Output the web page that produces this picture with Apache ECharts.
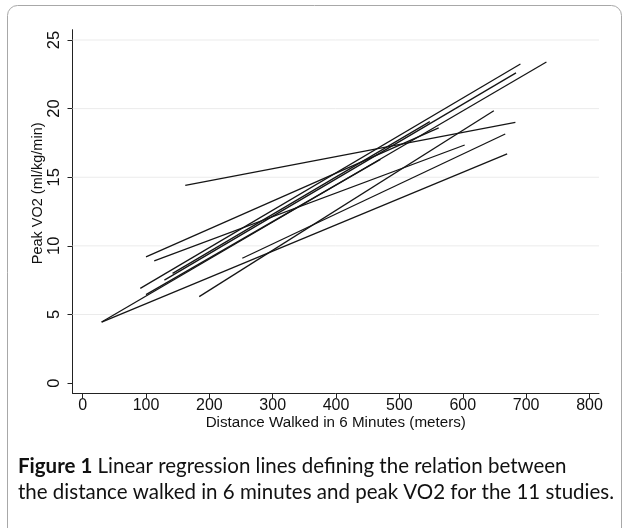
<!DOCTYPE html>
<html><head><meta charset="utf-8">
<script src="https://cdn.jsdelivr.net/npm/echarts@6/dist/echarts.min.js"></script>
<style>html,body{margin:0;padding:0;background:#fff}#c{width:625px;height:528px}</style>
</head><body><div id="c"></div>
<script>
// Regression line endpoints for the 11 studies (distance m, peak VO2)
const startX = [100, 113, 91, 129, 142, 184, 252, 30, 30, 162, 100];
const startY = [9.2, 8.9, 6.9, 7.5, 8.0, 6.3, 9.1, 4.45, 4.45, 14.4, 6.45];
const endX   = [562, 603, 691, 684, 548, 649, 667, 732, 670, 683, 470];
const endY   = [18.6, 17.35, 23.25, 22.6, 19.05, 19.85, 18.15, 23.4, 16.7, 19.0, 16.3];
const xTicks = [0, 100, 200, 300, 400, 500, 600, 700, 800];
const yTicks = [0, 5, 10, 15, 20, 25];
const gridYs = [5, 10, 15, 20, 25];
const xMin = -16, xMax = 815, yMin = -0.72, yMax = 25.75;
const xName = 'Distance Walked in 6 Minutes (meters)';
const yName = 'Peak VO2 (ml/kg/min)';
const capBold = 'Figure 1';
const capLine1 = ' Linear regression lines defining the relation between';
const capLine2 = 'the distance walked in 6 minutes and peak VO2 for the 11 studies.';

const chart = echarts.init(document.getElementById('c'), null, {renderer: 'canvas'});
const series = [];
gridYs.forEach(v => series.push({
  type: 'line', data: [[xMin, v], [xMax, v]], symbol: 'none', silent: true,
  lineStyle: {color: '#ebebeb', width: 1}, z: 1
}));
startX.forEach((x0, i) => series.push({
  type: 'line',
  data: [[x0, startY[i]], [endX[i], endY[i]]],
  symbol: 'none',
  silent: true,
  lineStyle: {color: '#151515', width: 1.3},
  z: 3
}));
const font = 'Liberation Sans';
chart.setOption({
  animation: false,
  backgroundColor: '#fff',
  grid: {left: 72.5, right: 26, top: 29.7, bottom: 135, containLabel: false},
  xAxis: {
    type: 'value', min: xMin, max: xMax,
    axisLine: {show: true, onZero: false, lineStyle: {color: '#222', width: 1}},
    axisTick: {show: true, customValues: xTicks, length: 5, lineStyle: {color: '#222'}},
    axisLabel: {customValues: xTicks, fontSize: 16, color: '#111', margin: 5, fontFamily: font},
    splitLine: {show: false},
    name: xName, nameLocation: 'middle', nameGap: 22, nameMoveOverlap: false,
    nameTextStyle: {fontSize: 15.2, color: '#111', fontFamily: font}
  },
  yAxis: {
    type: 'value', min: yMin, max: yMax,
    axisLine: {show: true, onZero: false, lineStyle: {color: '#222', width: 1}},
    axisTick: {show: true, customValues: yTicks, length: 5, lineStyle: {color: '#222'}},
    axisLabel: {customValues: yTicks, fontSize: 16.5, color: '#111', margin: 10, rotate: 90, fontFamily: font},
    splitLine: {show: false},
    name: yName, nameLocation: 'middle', nameGap: 27, nameRotate: 90, nameMoveOverlap: false,
    nameTextStyle: {fontSize: 14.5, color: '#111', fontFamily: font, padding: [0, 0, 0, 36]}
  },
  graphic: [
    {type: 'rect', shape: {x: 7.5, y: 5.5, width: 614, height: 600, r: 10},
     style: {fill: 'none', stroke: '#a8a8a8', lineWidth: 1}, silent: true},
    {type: 'text', left: 18, top: 453,
     style: {text: '{b|' + capBold + '}' + capLine1 + '\n' + capLine2,
       fontFamily: 'Lato', fontSize: 20.5, lineHeight: 26, fill: '#111',
       rich: {b: {fontWeight: 'bold', fontFamily: 'Lato', fontSize: 20.5, fill: '#111'}}}}
  ],
  series: series
});
</script></body></html>
